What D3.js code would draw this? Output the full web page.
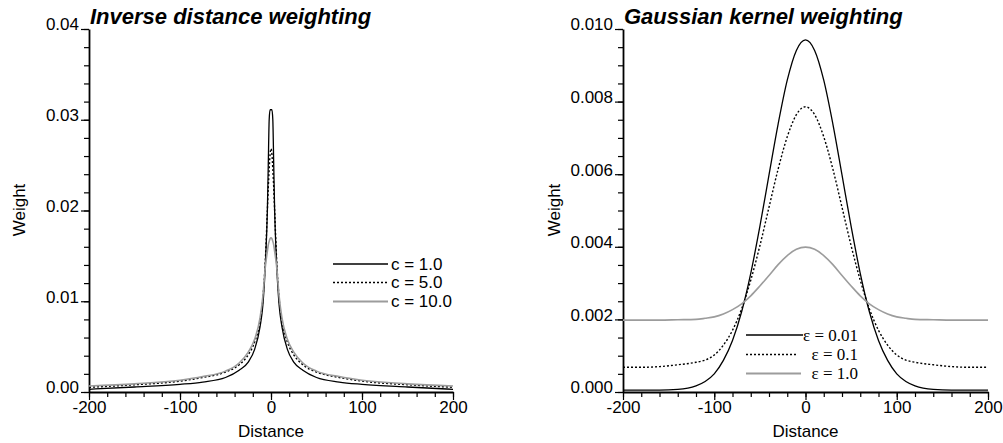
<!DOCTYPE html>
<html>
<head>
<meta charset="utf-8">
<script src="https://cdn.jsdelivr.net/npm/d3@7"></script>
<style>
  body { margin: 0; background: #fff; }
  text { font-family: "Liberation Sans", Arial, Helvetica, sans-serif; fill: #000; }
</style>
</head>
<body>
<svg id="grafico" width="1003" height="443"></svg>
<script>
// Datos panel izquierdo (inverse distance weighting)
var idwDistancia = [-200, -150, -100, -75, -50, -35, -25, -18, -12, -9, -6, -4, -3, -2, -1, 0, 1, 2, 3, 4, 6, 9, 12, 18, 25, 35, 50, 75, 100, 150, 200];
var idwC1 = [0.0003, 0.00055, 0.00085, 0.0011, 0.0016, 0.0024, 0.0033, 0.0047, 0.0072, 0.0095, 0.0145, 0.0200, 0.0250, 0.0300, 0.0311, 0.0311, 0.0311, 0.0300, 0.0250, 0.0200, 0.0145, 0.0095, 0.0072, 0.0047, 0.0033, 0.0024, 0.0016, 0.0011, 0.00085, 0.00055, 0.0003];
var idwC5 = [0.00052, 0.0008, 0.0012, 0.0016, 0.0022, 0.0030, 0.0041, 0.0055, 0.0078, 0.0102, 0.0150, 0.0200, 0.0225, 0.0245, 0.0262, 0.0268, 0.0262, 0.0245, 0.0225, 0.0200, 0.0150, 0.0102, 0.0078, 0.0055, 0.0041, 0.0030, 0.0022, 0.0016, 0.0012, 0.0008, 0.00052];
var idwC10 = [0.00066, 0.0009, 0.0013, 0.0017, 0.0023, 0.0032, 0.0044, 0.0058, 0.0082, 0.0105, 0.0140, 0.0155, 0.0162, 0.0166, 0.0169, 0.0170, 0.0169, 0.0166, 0.0162, 0.0155, 0.0140, 0.0105, 0.0082, 0.0058, 0.0044, 0.0032, 0.0023, 0.0017, 0.0013, 0.0009, 0.00066];
var idwEtiquetas = ["c = 1.0", "c = 5.0", "c = 10.0"];

// Datos panel derecho (gaussian kernel weighting)
var gkDistancia = [-200, -180, -160, -140, -120, -110, -100, -90, -80, -70, -60, -50, -40, -30, -20, -10, 0, 10, 20, 30, 40, 50, 60, 70, 80, 90, 100, 110, 120, 140, 160, 180, 200];
var gkE001 = [0.00005, 0.00005, 0.00005, 0.00007, 0.00017, 0.00029, 0.0005, 0.00087, 0.00142, 0.00221, 0.00327, 0.00456, 0.00598, 0.00738, 0.00859, 0.00941, 0.0097, 0.00941, 0.00859, 0.00738, 0.00598, 0.00456, 0.00327, 0.00221, 0.00142, 0.00087, 0.0005, 0.00029, 0.00017, 0.00007, 0.00005, 0.00005, 0.00005];
var gkE01 = [0.00068, 0.00068, 0.0007, 0.00075, 0.00082, 0.00088, 0.00102, 0.00129, 0.0017, 0.00229, 0.00308, 0.00403, 0.00509, 0.00614, 0.00703, 0.00764, 0.00786, 0.00764, 0.00703, 0.00614, 0.00509, 0.00403, 0.00308, 0.00229, 0.0017, 0.00129, 0.00102, 0.00088, 0.00082, 0.00075, 0.0007, 0.00068, 0.00068];
var gkE1 = [0.00198, 0.00198, 0.00198, 0.00199, 0.002, 0.00203, 0.00207, 0.00215, 0.00227, 0.00243, 0.00265, 0.00292, 0.00321, 0.00351, 0.00376, 0.00393, 0.00399, 0.00393, 0.00376, 0.00351, 0.00321, 0.00292, 0.00265, 0.00243, 0.00227, 0.00215, 0.00207, 0.00203, 0.002, 0.00199, 0.00198, 0.00198, 0.00198];
var gkEtiquetas = ["\u03b5 = 0.01", "\u03b5 = 0.1", "\u03b5 = 1.0"];

var xMayores = [-200, -100, 0, 100, 200];
var xMenores = d3.range(-200, 201, 20);

var svg = d3.select("#grafico");

// estilos de las tres series: continua negra, punteada, gris
var estilos = [
    { color: "#000", ancho: 1.3, trazo: null },
    { color: "#000", ancho: 1.4, trazo: "2,2" },
    { color: "#9c9c9c", ancho: 1.6, trazo: null }
];

function dibujarPanel(p) {
    var x = d3.scaleLinear().domain([-200, 200]).range([p.izq, p.der]);
    var y = d3.scaleLinear().domain([0, p.yMax]).range([392, 29]);

    // eje X, marcas menores y mayores
    svg.append("g")
        .attr("transform", "translate(0,392)")
        .call(d3.axisBottom(x).tickValues(xMenores).tickSize(5).tickFormat("").tickSizeOuter(0))
        .call(function (g) { g.select(".domain").remove(); });
    var ejeX = svg.append("g")
        .attr("transform", "translate(0,392)")
        .call(d3.axisBottom(x).tickValues(xMayores).tickSize(8).tickSizeOuter(0).tickFormat(function (d) { return String(d); }));
    ejeX.selectAll("text").style("font-size", "17px").attr("dy", "0.75em").attr("y", 8);

    // eje Y
    svg.append("g")
        .attr("transform", "translate(" + p.izq + ",0)")
        .call(d3.axisLeft(y).tickValues(p.yMenores).tickSize(5).tickFormat("").tickSizeOuter(0))
        .call(function (g) { g.select(".domain").remove(); });
    var ejeY = svg.append("g")
        .attr("transform", "translate(" + p.izq + ",0)")
        .call(d3.axisLeft(y).tickValues(p.yMayores).tickSize(8).tickSizeOuter(0).tickFormat(d3.format(p.formato)));
    ejeY.selectAll("text").style("font-size", "17px").attr("dy", "0.05em").attr("x", -10);

    svg.selectAll(".domain").attr("stroke-width", 1.8);
    svg.selectAll(".tick line").attr("stroke-width", 1.2);

    // titulos de ejes
    svg.append("text")
        .attr("x", (p.izq + p.der) / 2)
        .attr("y", 437)
        .attr("text-anchor", "middle")
        .style("font-size", "17px")
        .text("Distance");
    svg.append("text")
        .attr("transform", "translate(" + p.weightX + ",210) rotate(-90)")
        .attr("text-anchor", "middle")
        .style("font-size", "17px")
        .text("Weight");

    // titulo del panel
    svg.append("text")
        .attr("x", p.izq + 1)
        .attr("y", 24)
        .style("font-size", "22px")
        .style("font-weight", "bold")
        .style("font-style", "italic")
        .text(p.titulo);

    // curvas
    var linea = d3.line()
        .x(function (d, i) { return x(p.distancia[i]); })
        .y(function (d) { return y(d); })
        .curve(d3.curveMonotoneX);
    p.series.forEach(function (serie, k) {
        svg.append("path")
            .datum(serie)
            .attr("fill", "none")
            .attr("stroke", estilos[k].color)
            .attr("stroke-width", estilos[k].ancho)
            .attr("stroke-dasharray", estilos[k].trazo)
            .attr("d", linea);
    });

    // leyenda
    p.etiquetas.forEach(function (et, k) {
        var yy = p.leyenda.filas[k];
        svg.append("line")
            .attr("x1", p.leyenda.x1).attr("x2", p.leyenda.x2[k])
            .attr("y1", yy).attr("y2", yy)
            .attr("stroke", estilos[k].color)
            .attr("stroke-width", estilos[k].ancho + 0.2)
            .attr("stroke-dasharray", estilos[k].trazo);
        svg.append("text")
            .attr("x", p.leyenda.xTexto)
            .attr("y", yy)
            .attr("dy", "0.35em")
            .attr("text-anchor", p.leyenda.ancla)
            .style("font-family", p.leyenda.fuente)
            .style("font-size", "17px")
            .text(et);
    });
}

dibujarPanel({
    izq: 89, der: 453, yMax: 0.04,
    yMayores: [0, 0.01, 0.02, 0.03, 0.04],
    yMenores: d3.range(0, 0.0401, 0.002),
    formato: ".2f",
    weightX: 25,
    titulo: "Inverse distance weighting",
    distancia: idwDistancia,
    series: [idwC1, idwC5, idwC10],
    etiquetas: idwEtiquetas,
    leyenda: { x1: 333, x2: [388, 388, 388], filas: [264, 282.5, 301.5], xTexto: 391, ancla: "start", fuente: "Liberation Sans, Arial, sans-serif" }
});

dibujarPanel({
    izq: 623, der: 988, yMax: 0.010,
    yMayores: [0, 0.002, 0.004, 0.006, 0.008, 0.010],
    yMenores: d3.range(0, 0.01001, 0.0005),
    formato: ".3f",
    weightX: 560,
    titulo: "Gaussian kernel weighting",
    distancia: gkDistancia,
    series: [gkE001, gkE01, gkE1],
    etiquetas: gkEtiquetas,
    leyenda: { x1: 746, x2: [803, 796, 801], filas: [335, 354.5, 373.5], xTexto: 858, ancla: "end", fuente: "Liberation Serif, Times New Roman, serif" }
});
</script>
</body>
</html>
